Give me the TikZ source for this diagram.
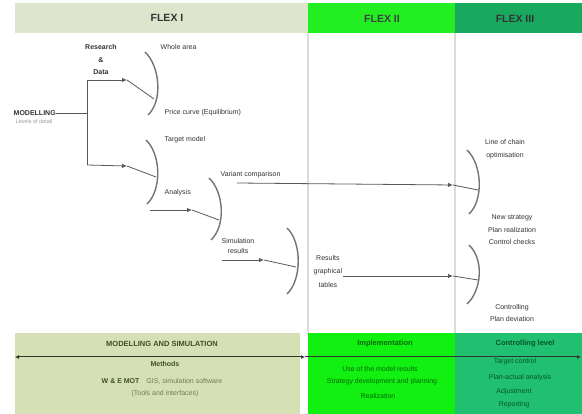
\documentclass[tikz,border=0pt]{standalone}
\usepackage{fontspec}
\setmainfont{Liberation Sans}
\usetikzlibrary{arrows.meta,calc}
\definecolor{hdrA}{HTML}{DDE6CC}
\definecolor{hdrB}{HTML}{22EE22}
\definecolor{hdrC}{HTML}{18A85E}
\definecolor{botA}{HTML}{D5E1B5}
\definecolor{botB}{HTML}{11F011}
\definecolor{botC}{HTML}{20C070}
\definecolor{txtA}{HTML}{3F4F22}
\definecolor{txtB}{HTML}{066A06}
\definecolor{txtC}{HTML}{05562A}
\tikzset{
  lbl/.style={font=\fontsize{7}{12.5}\selectfont, text=black!80, inner sep=0.5pt, align=center},
  brc/.style={draw=black!55, line width=1.4pt},
  con/.style={draw=black!65, line width=0.8pt},
  arr/.style={con, -{Latex[length=5pt,width=4.5pt]}},
  vline/.style={draw=black!14, line width=1.6pt},
  hdr/.style={font=\bfseries\fontsize{10.5}{12}\selectfont, inner sep=1pt},
  bandA/.style={font=\fontsize{7}{8}\selectfont, text=txtA, align=center, inner sep=0.5pt},
  bandB/.style={font=\fontsize{7}{8}\selectfont, text=txtB, align=center, inner sep=0.5pt},
  bandC/.style={font=\fontsize{7}{8}\selectfont, text=txtC, align=center, inner sep=0.5pt},
}
\begin{document}
\begin{tikzpicture}[x=1pt,y=-1pt]
\useasboundingbox (0,0) rectangle (582,414);
\fill[white] (0,0) rectangle (582,414);
% header
\fill[hdrA] (15,3) rectangle (308,33);
\fill[hdrB] (308,3) rectangle (455,33);
\fill[hdrC] (455,3) rectangle (582,33);
\node[hdr, text=black!80] (h1) at (167,18) {FLEX I};
\node[hdr, text=black!75] (h2) at (382,19) {FLEX II};
\node[hdr, text=black!80] (h3) at (515,19) {FLEX III};
% separators
\draw[vline] (308,33) -- (308,333);
\draw[vline] (455,33) -- (455,333);
% bottom bands
\fill[botA] (15,333) rectangle (300,414);
\fill[botB] (308,333) rectangle (455,414);
\fill[botC] (455,333) rectangle (582,414);
\coordinate (l0) at (15,357);
\coordinate (l1) at (305,357);
\coordinate (l2) at (581,357);
\draw[draw=black!80, line width=1pt, {Latex[length=4pt,width=4pt]}-{Latex[length=4pt,width=4pt]}] (l0) -- (l1);
\draw[draw=black!80, line width=1pt, -{Latex[length=4pt,width=4pt]}] (l1) -- (l2);
\node[bandA, font=\bfseries\fontsize{7.5}{8}\selectfont] (bA1) at (162,344) {MODELLING AND SIMULATION};
\node[bandA, font=\bfseries\fontsize{7}{8}\selectfont] (bA2) at (165,364) {Methods};
\node[bandA] (bA3) at (162,381) {\textbf{W \& E MOT}\quad{\color{txtA!75}GIS, simulation software}};
\node[bandA, text=txtA!75] (bA4) at (165,394) {(Tools and interfaces)};
\node[bandB, font=\bfseries\fontsize{7.5}{8}\selectfont] (bB1) at (385,344) {Implementation};
\node[bandB] (bB2) at (380,369) {Use of the model results};
\node[bandB] (bB3) at (382,382) {Strategy development and planning};
\node[bandB] (bB4) at (378,396) {Realization};
\node[bandC, font=\bfseries\fontsize{7.5}{8}\selectfont] (bC1) at (525,344) {Controlling level};
\node[bandC] (bC2) at (515,362) {Target control};
\node[bandC] (bC3) at (520,378) {Plan-actual analysis};
\node[bandC] (bC4) at (514,392) {Adjustment};
\node[bandC] (bC5) at (514,405) {Reporting};
% left tree
\node[lbl, font=\bfseries\fontsize{7}{8}\selectfont, anchor=west] (model) at (13,113) {MODELLING};
\node[lbl, text=black!40, anchor=west, font=\fontsize{5.5}{7}\selectfont] (msub) at (15,122) {Levels of detail};
\node[lbl, font=\bfseries\fontsize{7}{12.5}\selectfont] (md) at (101,60) {Research\\\&\\Data};
\coordinate (bt) at (87,80);
\coordinate (bm) at (87,113);
\coordinate (bb) at (87,165);
\coordinate (a1) at (127,80);
\coordinate (a2) at (127,166);
\draw[con] (model.east) -- (bm);
\draw[con] (bt) -- (bb);
\draw[arr] (bt) -- (a1);
\draw[arr] (bb) -- (a2);
% braces (parenthesis-like arcs)
\coordinate (b1t) at (145,52);  \coordinate (b1b) at (148,115);
\coordinate (b2t) at (146,140); \coordinate (b2b) at (147,204);
\coordinate (b3t) at (209,178); \coordinate (b3b) at (211,240);
\coordinate (b4t) at (287,228); \coordinate (b4b) at (287,294);
\coordinate (r1t) at (467,150); \coordinate (r1b) at (469,214);
\coordinate (r2t) at (469,245); \coordinate (r2b) at (467,304);
\foreach \t/\b in {b1t/b1b,b2t/b2b,b3t/b3b,b4t/b4b,r1t/r1b,r2t/r2b}{
  \draw[brc] (\t) .. controls ($(\t)+(15,14)$) and ($(\b)+(15,-14)$) .. (\b);
}
% brace inputs
\coordinate (e1) at (154,99);
\coordinate (e2) at (156,177);
\coordinate (s3) at (150,210); \coordinate (a3) at (192,210); \coordinate (e3) at (219,220);
\coordinate (s4) at (222,260); \coordinate (a4) at (264,260); \coordinate (e4) at (296,267);
\coordinate (s5) at (237,183); \coordinate (a5) at (453,185); \coordinate (e5) at (478,190);
\coordinate (a6) at (453,276); \coordinate (e6) at (478,280);
\draw[con] (a1) -- (e1);
\draw[con] (a2) -- (e2);
\draw[arr] (s3) -- (a3); \draw[con] (a3) -- (e3);
\draw[arr] (s4) -- (a4); \draw[con] (a4) -- (e4);
\draw[arr] (s5) -- (a5); \draw[con] (a5) -- (e5);
% labels
\node[lbl, anchor=west] (wa) at (160,47) {Whole area};
\node[lbl, anchor=west] (pc) at (164,113) {Price curve (Equilibrium)};
\node[lbl, anchor=west] (tm) at (164,140) {Target model};
\node[lbl, anchor=west] (an) at (164,193) {Analysis};
\node[lbl, anchor=west] (vc) at (220,175) {Variant comparison};
\node[lbl, anchor=west, font=\fontsize{7}{10.5}\selectfont] (sr) at (221,246) {Simulation\\results};
\node[lbl, anchor=west, font=\fontsize{7}{13.5}\selectfont] (rg) at (313,271) {Results\\graphical\\tables};
\draw[arr] (rg.east |- a6) -- (a6); \draw[con] (a6) -- (e6);
\node[lbl] (lc) at (505,149) {Line of chain\\optimisation};
\node[lbl] (ns) at (512,230) {New strategy\\Plan realization\\Control checks};
\node[lbl] (cp) at (512,313) {Controlling\\Plan deviation};
\end{tikzpicture}
\end{document}
